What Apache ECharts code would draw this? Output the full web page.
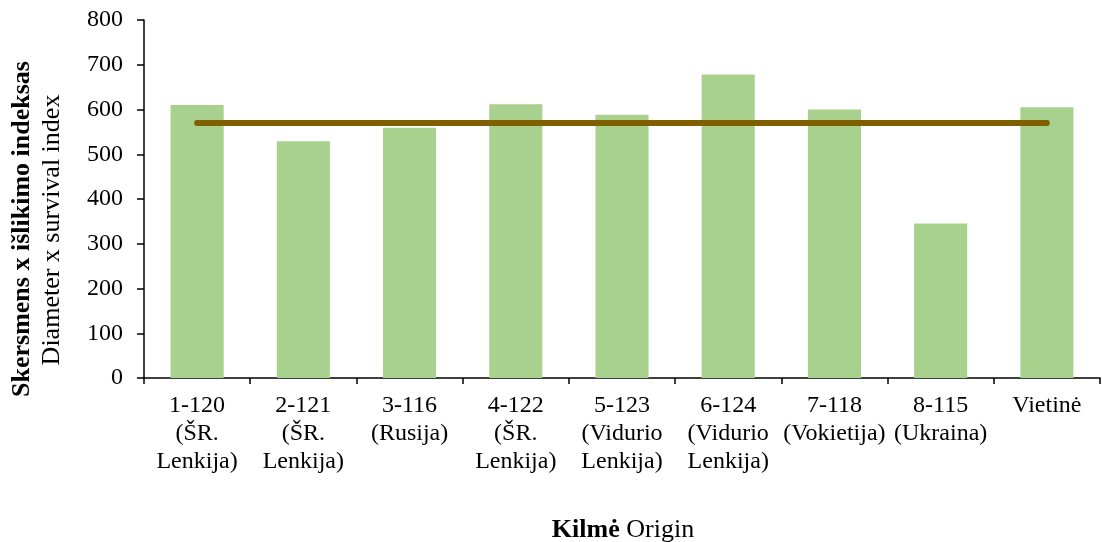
<!DOCTYPE html>
<html>
<head>
<meta charset="utf-8">
<script src="https://cdn.jsdelivr.net/npm/echarts@6/dist/echarts.min.js"></script>
<style>html,body{margin:0;padding:0;background:#fff;}#c{width:1102px;height:542px;}</style>
</head>
<body>
<div id="c"></div>
<script>
const categories = [
  "1-120\n(ŠR.\nLenkija)",
  "2-121\n(ŠR.\nLenkija)",
  "3-116\n(Rusija)",
  "4-122\n(ŠR.\nLenkija)",
  "5-123\n(Vidurio\nLenkija)",
  "6-124\n(Vidurio\nLenkija)",
  "7-118\n(Vokietija)",
  "8-115\n(Ukraina)",
  "Vietinė"
];
const indexValues = [610, 529, 559, 612, 588, 678, 600, 345, 605];
const meanValues = [570, 570, 570, 570, 570, 570, 570, 570, 570];
const yTicks = { min: 0, max: 800, interval: 100 };

const font = '"Liberation Serif", "Times New Roman", serif';
const chart = echarts.init(document.getElementById('c'), null, { renderer: 'canvas' });
chart.setOption({
  animation: false,
  backgroundColor: '#ffffff',
  grid: { left: 144, right: 2, top: 20, bottom: 164, containLabel: false },
  xAxis: {
    type: 'category',
    data: categories,
    axisLine: { lineStyle: { color: '#000', width: 1.5 } },
    axisTick: { show: true, length: 6, lineStyle: { color: '#000', width: 1.5 } },
    axisLabel: { color: '#000', fontFamily: font, fontSize: 24, lineHeight: 28, margin: 14, interval: 0 },
    splitLine: { show: false }
  },
  yAxis: {
    type: 'value',
    min: yTicks.min, max: yTicks.max, interval: yTicks.interval,
    axisLine: { show: true, lineStyle: { color: '#000', width: 1.5 } },
    axisTick: { show: true, length: 7, lineStyle: { color: '#000', width: 1.5 } },
    axisLabel: { color: '#000', fontFamily: font, fontSize: 24, margin: 21 },
    splitLine: { show: false }
  },
  series: [
    {
      type: 'bar',
      data: indexValues,
      barWidth: '50%',
      itemStyle: { color: '#A9D18E' }
    },
    {
      type: 'line',
      data: meanValues,
      symbol: 'none',
      lineStyle: { color: '#7F6000', width: 6, cap: 'round' },
      z: 5
    }
  ],
  graphic: [
    {
      type: 'text',
      x: 22, y: 229,
      rotation: Math.PI / 2,
      style: {
        text: 'Skersmens x išlikimo indeksas',
        fontFamily: font, fontSize: 26, fontWeight: 'bold',
        fill: '#000',
        align: 'center',
        verticalAlign: 'middle'
      }
    },
    {
      type: 'text',
      x: 52, y: 230,
      rotation: Math.PI / 2,
      style: {
        text: 'Diameter x survival index',
        fontFamily: font, fontSize: 26,
        fill: '#000',
        align: 'center',
        verticalAlign: 'middle'
      }
    },
    {
      type: 'text',
      x: 623, y: 530,
      style: {
        text: '{b|Kilmė} Origin',
        rich: {
          b: { fontWeight: 'bold', fontSize: 26, fontFamily: font, fill: '#000' }
        },
        fontSize: 26,
        fontFamily: font,
        fill: '#000',
        align: 'center',
        verticalAlign: 'middle'
      }
    }
  ]
});
</script>
</body>
</html>
